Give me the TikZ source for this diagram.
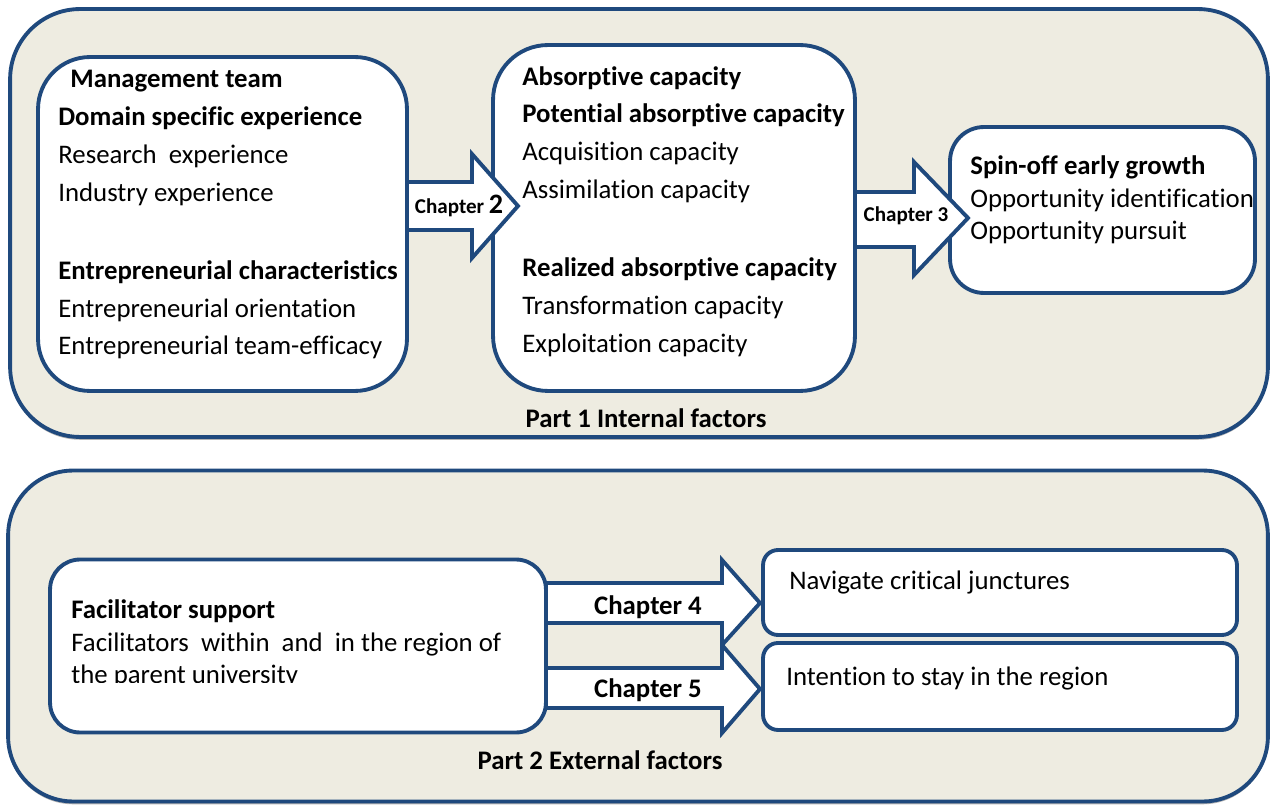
\documentclass[tikz,border=0pt]{standalone}
\usepackage{fontspec}
\setmainfont{Carlito}[Ligatures={NoCommon}]
\usetikzlibrary{positioning,shadows}
\definecolor{framecol}{RGB}{31,73,125}
\definecolor{partfill}{RGB}{238,236,225}

\begin{document}
\begin{tikzpicture}[
  x=0.02cm, y=-0.02cm,
  part/.style={rectangle, rounded corners=1.4cm, draw=framecol, fill=partfill, line width=2.2pt, outer sep=0pt,
    drop shadow={shadow xshift=0pt, shadow yshift=-1.6pt, fill=gray!60, opacity=1}},
  block/.style={rectangle, draw=framecol, fill=white, line width=2.2pt, outer sep=0pt, inner sep=0pt},
  chapterarrow/.style={draw=framecol, fill=white, line width=2.2pt, line join=miter},
  txt/.style={anchor=north west, align=left, inner sep=0pt},
  label/.style={font=\bfseries\fontsize{15.25}{18}\selectfont, inner sep=0pt},
  chap/.style={font=\bfseries\fontsize{12}{14}\selectfont, inner sep=0pt},
  font=\fontsize{15.25}{21.5}\selectfont
]
\useasboundingbox (0,0) rectangle (1271,807);

% the two parts
\node[part, minimum width=25.16cm, minimum height=8.56cm] (internal) at (639,223) {};
\node[part, minimum width=25.2cm, minimum height=6.62cm, rounded corners=1.3cm] (external) at (638,636) {};

% boxes of part 1
\node[block, minimum width=7.38cm, minimum height=6.68cm, rounded corners=1.04cm] (team) at (222.5,224) {};
\node[block, minimum width=7.24cm, minimum height=6.92cm, rounded corners=1.1cm] (absorb) at (674,218) {};
\node[block, minimum width=6.1cm, minimum height=3.32cm, rounded corners=0.68cm] (growth) at (1102.5,210) {};

% boxes of part 2
\node[block, minimum width=9.92cm, minimum height=3.46cm, rounded corners=0.6cm] (support) at (298,646) {};
\node[block, minimum width=9.48cm, minimum height=1.7cm, rounded corners=0.3cm] (junct) at (1000,592.5) {};
\node[block, minimum width=9.48cm, minimum height=1.74cm, rounded corners=0.3cm, below=0.16cm of junct] (stay) {};

% chapter arrows
\draw[chapterarrow] (team.east |- 0,182) -- (472,182) -- (472,154) -- (518,206) -- (472,258) -- (472,230) -- (team.east |- 0,230) -- cycle;
\draw[chapterarrow] (absorb.east |- 0,192) -- (914,192) -- (914,162) -- (968,218) -- (914,275) -- (914,247) -- (absorb.east |- 0,247) -- cycle;
\draw[chapterarrow] (support.east |- 0,583) -- (722,583) -- (722,560) -- (760,603) -- (722,645) -- (722,623) -- (support.east |- 0,623) -- cycle;
\draw[chapterarrow] (support.east |- 0,668) -- (722,668) -- (722,645) -- (760,689) -- (722,733) -- (722,708) -- (support.east |- 0,708) -- cycle;

% texts
\node[txt] (teamtxt) at (58,70) {\hspace*{0.24cm}\textbf{Management team}\\
  \textbf{Domain specific experience}\\
  Research~ experience\\
  Industry experience\\[23pt]
  \textbf{Entrepreneurial characteristics}\\
  Entrepreneurial orientation\\
  Entrepreneurial team-efficacy};
\node[txt] (absorbtxt) at (522,66) {\textbf{Absorptive capacity}\\
  \textbf{Potential absorptive capacity}\\
  Acquisition capacity\\
  Assimilation capacity\\[23pt]
  \textbf{Realized absorptive capacity}\\
  Transformation capacity\\
  Exploitation capacity};
\node[txt, font=\fontsize{15.25}{18.7}\selectfont] (growthtxt) at (970,155) {\textbf{Spin-off early growth}\\
  Opportunity identification\\
  Opportunity pursuit};
\begin{scope}
  \clip (60,580) rectangle (540,682);
  \node[txt, font=\fontsize{15.25}{18.7}\selectfont] (supporttxt) at (71,599) {\textbf{Facilitator support}\\
    Facilitators~ within~ and~ in the region of\\
    the parent university};
\end{scope}
\node[anchor=base west, inner sep=0pt] (juncttxt) at (789,589) {Navigate critical junctures};
\node[anchor=base west, inner sep=0pt] (staytxt) at (786,685) {Intention to stay in the region};

% labels
\node[chap] (ch2) at (459,206) {Chapter {\fontsize{16}{18}\selectfont 2}};
\node[chap] (ch3) at (906,216) {Chapter 3};
\node[label] (ch4) at (648,607) {Chapter 4};
\node[label] (ch5) at (648,690) {Chapter 5};
\node[label] (part1) at (646,418) {Part 1 Internal factors};
\node[label] (part2) at (600,760) {Part 2 External factors};
\end{tikzpicture}
\end{document}
